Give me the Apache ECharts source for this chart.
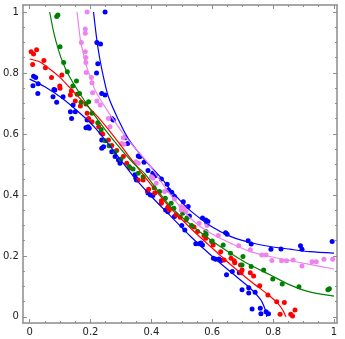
<!DOCTYPE html>
<html>
<head>
<meta charset="utf-8">
<script src="https://cdn.jsdelivr.net/npm/echarts@6/dist/echarts.min.js"></script>
<style>
  html, body { margin: 0; padding: 0; background: #fff; }
  #chart { width: 345px; height: 339px; }
</style>
</head>
<body>
<div id="chart"></div>
<script>
// scatter samples as [x, y]
const bluePoints = [
  [0.013,0.789],[0.02,0.785],[0.011,0.758],[0.028,0.765],[0.027,0.733],[0.08,0.746],[0.083,0.744],
  [0.077,0.722],[0.089,0.704],[0.11,0.722],[0.143,0.695],[0.134,0.673],[0.15,0.673],[0.138,0.651],
  [0.189,0.646],[0.192,0.624],[0.196,0.619],[0.185,0.62],[0.237,0.58],[0.243,0.558],[0.237,0.553],
  [0.27,0.542],[0.281,0.526],[0.292,0.515],[0.297,0.504],[0.346,0.466],[0.349,0.455],[0.351,0.449],
  [0.389,0.406],[0.397,0.4],[0.405,0.398],[0.447,0.351],[0.454,0.345],[0.476,0.329],[0.5,0.3],
  [0.51,0.285],[0.546,0.24],[0.557,0.24],[0.563,0.242],[0.568,0.236],[0.604,0.192],[0.611,0.189],
  [0.622,0.19],[0.63,0.185],[0.647,0.138],[0.666,0.149],[0.689,0.145],[0.698,0.089],[0.72,0.096],
  [0.72,0.078],[0.741,0.081],[0.731,0.026],[0.758,0.028],[0.76,0.01],[0.777,0.017],[0.785,0.01],
  [0.248,1.0],[0.221,0.9],[0.233,0.895],[0.224,0.83],[0.22,0.8],[0.237,0.733],[0.248,0.728],
  [0.27,0.651],[0.275,0.646],[0.313,0.588],[0.322,0.569],[0.357,0.528],[0.362,0.525],[0.376,0.507],
  [0.389,0.48],[0.405,0.471],[0.413,0.463],[0.433,0.452],[0.452,0.435],[0.456,0.416],[0.467,0.409],
  [0.476,0.395],[0.505,0.378],[0.521,0.362],[0.525,0.331],[0.568,0.324],[0.579,0.318],[0.582,0.31],
  [0.586,0.313],[0.644,0.276],[0.649,0.271],[0.718,0.25],[0.728,0.239],[0.793,0.222],[0.826,0.223],
  [0.89,0.233],[0.895,0.222],[0.994,0.247]
];
const redPoints = [
  [0.005,0.87],[0.013,0.862],[0.023,0.876],[0.01,0.828],[0.047,0.841],[0.052,0.817],[0.072,0.785],
  [0.106,0.793],[0.099,0.757],[0.1,0.75],[0.137,0.741],[0.134,0.728],[0.15,0.708],[0.167,0.692],
  [0.189,0.668],[0.194,0.651],[0.205,0.64],[0.227,0.624],[0.235,0.604],[0.24,0.6],[0.259,0.58],
  [0.27,0.562],[0.286,0.546],[0.308,0.526],[0.319,0.504],[0.33,0.488],[0.357,0.449],[0.373,0.449],
  [0.387,0.413],[0.391,0.419],[0.411,0.406],[0.433,0.381],[0.433,0.373],[0.454,0.36],[0.459,0.351],
  [0.481,0.334],[0.495,0.327],[0.514,0.318],[0.54,0.295],[0.552,0.28],[0.573,0.267],[0.579,0.258],
  [0.598,0.247],[0.603,0.236],[0.628,0.214],[0.639,0.187],[0.662,0.192],[0.672,0.184],[0.674,0.178],
  [0.693,0.17],[0.698,0.154],[0.695,0.145],[0.725,0.145],[0.736,0.134],[0.756,0.102],[0.783,0.072],
  [0.812,0.05],[0.837,0.047],[0.823,0.009],[0.858,0.009],[0.864,0.003],[0.872,0.023]
];
const greenPoints = [
  [0.089,0.985],[0.093,0.99],[0.1,0.886],[0.112,0.834],[0.124,0.804],[0.142,0.757],[0.154,0.774],
  [0.156,0.73],[0.164,0.733],[0.169,0.704],[0.194,0.706],[0.185,0.698],[0.205,0.668],[0.224,0.637],
  [0.235,0.615],[0.248,0.578],[0.261,0.561],[0.281,0.542],[0.3,0.517],[0.327,0.493],[0.34,0.485],
  [0.357,0.471],[0.373,0.46],[0.409,0.424],[0.427,0.411],[0.446,0.389],[0.465,0.373],[0.474,0.356],
  [0.503,0.34],[0.517,0.324],[0.532,0.3],[0.579,0.28],[0.58,0.27],[0.6,0.249],[0.636,0.236],
  [0.66,0.209],[0.701,0.198],[0.698,0.17],[0.728,0.165],[0.769,0.154],[0.799,0.124],[0.83,0.108],
  [0.885,0.099],[0.98,0.089],[0.985,0.092]
];
const violetPoints = [
  [0.189,1.0],[0.183,0.944],[0.183,0.93],[0.17,0.9],[0.183,0.87],[0.185,0.851],[0.185,0.834],
  [0.186,0.802],[0.203,0.785],[0.205,0.768],[0.207,0.735],[0.221,0.708],[0.232,0.695],[0.259,0.651],
  [0.264,0.624],[0.302,0.569],[0.308,0.588],[0.31,0.566],[0.349,0.509],[0.357,0.504],[0.4,0.46],
  [0.405,0.455],[0.416,0.438],[0.443,0.411],[0.476,0.387],[0.498,0.351],[0.498,0.362],[0.51,0.359],
  [0.514,0.346],[0.557,0.307],[0.583,0.3],[0.62,0.267],[0.687,0.233],[0.725,0.22],[0.763,0.203],
  [0.777,0.203],[0.796,0.185],[0.828,0.184],[0.844,0.184],[0.866,0.187],[0.895,0.167],[0.928,0.181],
  [0.942,0.181],[0.967,0.189],[0.996,0.189]
];

// fitted curves
const blueLowCurve = [
  [0,0.78],[0.05,0.755],[0.107,0.717],[0.172,0.662],[0.216,0.619],[0.28,0.54],[0.346,0.455],
  [0.405,0.39],[0.465,0.329],[0.53,0.263],[0.595,0.203],[0.66,0.148],[0.725,0.094],[0.758,0.058],
  [0.772,0.03],[0.777,0.012],[0.779,0]
];
const blueHighCurve = [
  [0.21,1.0],[0.221,0.908],[0.23,0.85],[0.242,0.79],[0.259,0.722],[0.292,0.646],[0.324,0.585],
  [0.378,0.515],[0.433,0.455],[0.465,0.415],[0.498,0.378],[0.53,0.347],[0.595,0.298],[0.66,0.264],
  [0.725,0.244],[0.79,0.231],[0.855,0.222],[0.92,0.214],[1.0,0.209]
];
const redCurve = [
  [0,0.846],[0.032,0.837],[0.064,0.815],[0.097,0.788],[0.129,0.755],[0.17,0.712],[0.225,0.655],
  [0.28,0.588],[0.324,0.53],[0.367,0.474],[0.42,0.408],[0.465,0.355],[0.53,0.29],[0.595,0.23],
  [0.66,0.172],[0.725,0.118],[0.79,0.068],[0.815,0.045],[0.832,0.022],[0.84,0.005],[0.842,0]
];
const greenCurve = [
  [0.066,1.0],[0.08,0.93],[0.095,0.875],[0.11,0.832],[0.13,0.79],[0.16,0.74],[0.2,0.68],
  [0.25,0.612],[0.3,0.55],[0.34,0.505],[0.378,0.47],[0.42,0.415],[0.465,0.36],[0.53,0.302],
  [0.595,0.252],[0.66,0.209],[0.725,0.17],[0.79,0.138],[0.855,0.105],[0.92,0.082],[1.0,0.068]
];
const violetCurve = [
  [0.156,1.0],[0.167,0.908],[0.175,0.87],[0.183,0.835],[0.2,0.785],[0.216,0.742],[0.27,0.655],
  [0.324,0.58],[0.389,0.504],[0.422,0.458],[0.465,0.398],[0.53,0.322],[0.595,0.274],[0.66,0.242],
  [0.725,0.214],[0.79,0.198],[0.855,0.185],[0.92,0.172],[1.0,0.157]
];

const majorTicks = [0, 0.2, 0.4, 0.6, 0.8, 1];
const tickLabels = ['0', '0.2', '0.4', '0.6', '0.8', '1'];
const minorTicks = [0.05,0.1,0.15,0.25,0.3,0.35,0.45,0.5,0.55,0.65,0.7,0.75,0.85,0.9,0.95];

const frameColor = '#8c8c8c';

const makeAxis = (position, min, max, ticks, len, withLine, withLabels) => ({
  type: 'value',
  position: position,
  min: min,
  max: max,
  axisLine: { show: withLine, onZero: false, lineStyle: { color: frameColor, width: 1.5 } },
  axisTick: { show: true, inside: true, length: len, customValues: ticks,
    lineStyle: { color: frameColor, width: 1 } },
  axisLabel: withLabels ? {
    show: true,
    customValues: ticks,
    formatter: v => tickLabels[majorTicks.indexOf(Math.round(v * 10) / 10)],
    color: '#222',
    fontSize: 10,
    fontFamily: 'DejaVu Sans',
    margin: 4
  } : { show: false },
  splitLine: { show: false }
});

const chart = echarts.init(document.getElementById('chart'));

const scatter = (data, color) => ({
  type: 'scatter', data: data, symbolSize: 5,
  itemStyle: { color: color, opacity: 1 }, silent: true
});
const curve = (data, color) => ({
  type: 'line', data: data, smooth: 0.3, showSymbol: false,
  lineStyle: { color: color, width: 1.2 }, silent: true
});

chart.setOption({
  animation: false,
  backgroundColor: '#fff',
  grid: { left: 20, right: 8, top: 5, bottom: 16 },
  xAxis: [
    makeAxis('bottom', -0.022, 1.01, majorTicks, 4, true, true),
    makeAxis('bottom', -0.022, 1.01, minorTicks, 2, false, false),
    makeAxis('top', -0.022, 1.01, majorTicks, 4, true, false),
    makeAxis('top', -0.022, 1.01, minorTicks, 2, false, false)
  ],
  yAxis: [
    makeAxis('left', -0.02, 1.023, majorTicks, 4, true, true),
    makeAxis('left', -0.02, 1.023, minorTicks, 2, false, false),
    makeAxis('right', -0.02, 1.023, majorTicks, 4, true, false),
    makeAxis('right', -0.02, 1.023, minorTicks, 2, false, false)
  ],
  series: [
    scatter(bluePoints, '#0000ff'),
    scatter(redPoints, '#ff0000'),
    scatter(greenPoints, '#008000'),
    scatter(violetPoints, '#ee82ee'),
    curve(blueLowCurve, '#0000ff'),
    curve(blueHighCurve, '#0000ff'),
    curve(redCurve, '#ff0000'),
    curve(greenCurve, '#008000'),
    curve(violetCurve, '#ee82ee')
  ]
});
</script>
</body>
</html>
